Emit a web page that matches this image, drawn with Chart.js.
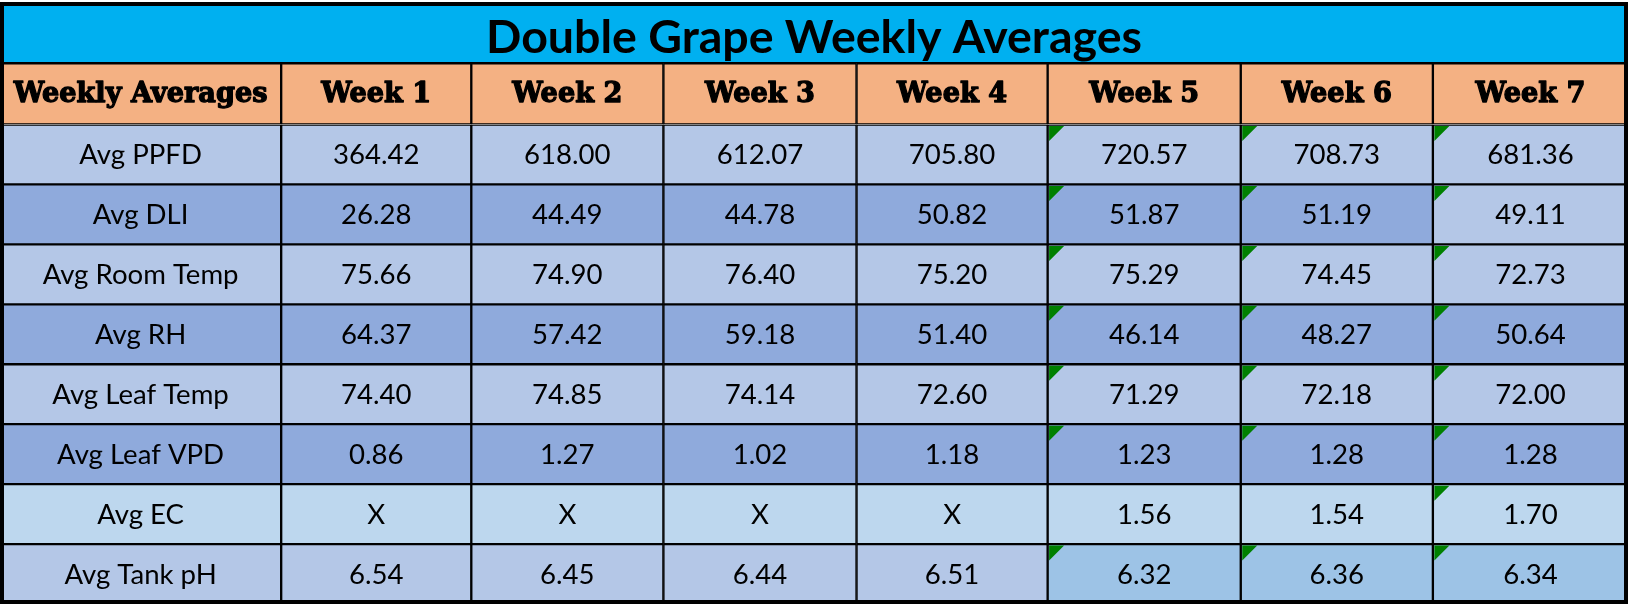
<!DOCTYPE html>
<html>
<head>
<meta charset="utf-8">
<script src="https://cdn.jsdelivr.net/npm/chart.js@4.4.1/dist/chart.umd.min.js"></script>
<style>
  html, body { margin: 0; padding: 0; background: #ffffff; }
  #wrap { width: 1628px; height: 606px; position: relative; }
</style>
</head>
<body>
<div id="wrap"><canvas id="c"></canvas></div>
<script>
// ---------------- DATA ----------------
const tableTitle = 'Double Grape Weekly Averages';
const cornerHeader = 'Weekly Averages';
const weekLabels = ['Week 1', 'Week 2', 'Week 3', 'Week 4', 'Week 5', 'Week 6', 'Week 7'];
const rowLabels = ['Avg PPFD', 'Avg DLI', 'Avg Room Temp', 'Avg RH', 'Avg Leaf Temp', 'Avg Leaf VPD', 'Avg EC', 'Avg Tank pH'];
const avgPPFD     = [364.42, 618.00, 612.07, 705.80, 720.57, 708.73, 681.36];
const avgDLI      = [26.28, 44.49, 44.78, 50.82, 51.87, 51.19, 49.11];
const avgRoomTemp = [75.66, 74.90, 76.40, 75.20, 75.29, 74.45, 72.73];
const avgRH       = [64.37, 57.42, 59.18, 51.40, 46.14, 48.27, 50.64];
const avgLeafTemp = [74.40, 74.85, 74.14, 72.60, 71.29, 72.18, 72.00];
const avgLeafVPD  = [0.86, 1.27, 1.02, 1.18, 1.23, 1.28, 1.28];
const avgEC       = [null, null, null, null, 1.56, 1.54, 1.70];
const avgTankPH   = [6.54, 6.45, 6.44, 6.51, 6.32, 6.36, 6.34];
const missingMark = 'X';
// cells carrying the spreadsheet's green corner indicator: [row index, week index]
const flaggedCells = [
  [0,4],[0,5],[0,6], [1,4],[1,5],[1,6], [2,4],[2,5],[2,6], [3,4],[3,5],[3,6],
  [4,4],[4,5],[4,6], [5,4],[5,5],[5,6], [6,6], [7,4],[7,5],[7,6]
];

// ---------------- LAYOUT / STYLE ----------------
const columnWidths = [281, 190, 192, 193, 191, 193, 192, 195];
const topBandWeight = 122.5;   // title + header rows
const bodyBandWeight = 479.5;  // eight data rows
const colors = {
  title: '#00B0F0', header: '#F4B183', light: '#B4C7E7', dark: '#8FAADC',
  ec: '#BDD7EE', ph: '#9DC3E6', grid: '#000000', text: '#000000', flag: '#008000'
};
const rowShade = ['light', 'dark', 'light', 'dark', 'light', 'dark', 'ec', 'light'];
function cellShade(r, c) { // c: 0 = label column, 1..7 = weeks
  if (r === 1 && c === 7) return 'light';
  if (r === 7 && c >= 5) return 'ph';
  return rowShade[r];
}

// ---------------- BUILD ----------------
const seriesRows = [avgPPFD, avgDLI, avgRoomTemp, avgRH, avgLeafTemp, avgLeafVPD, avgEC, avgTankPH];
const topCategories = ['title', 'header'];
const edges = [0];
columnWidths.forEach(w => edges.push(edges[edges.length - 1] + w));
const totalWidth = edges[edges.length - 1];
const fmt = v => (v === null ? missingMark : v.toFixed(2));
const barBase = {
  grouped: false, borderColor: colors.grid, borderWidth: 1.5, borderSkipped: false,
  categoryPercentage: 1, barPercentage: 1
};

const datasets = [];
// title + header band
for (let c = 0; c < columnWidths.length; c++) {
  datasets.push(Object.assign({}, barBase, {
    yAxisID: 'yTop',
    data: [c === 0 ? [0, totalWidth] : null, [edges[c], edges[c + 1]]],
    backgroundColor: [colors.title, colors.header],
    cellText: [c === 0 ? tableTitle : '', c === 0 ? cornerHeader : weekLabels[c - 1]],
    cellKind: ['title', 'header'],
    cellFlag: [false, false]
  }));
}
// data band
for (let c = 0; c < columnWidths.length; c++) {
  const data = [], bg = [], text = [], kind = [], flags = [];
  rowLabels.forEach((lab, r) => {
    data.push([edges[c], edges[c + 1]]);
    bg.push(colors[cellShade(r, c)]);
    text.push(c === 0 ? lab : fmt(seriesRows[r][c - 1]));
    kind.push('body');
    flags.push(c > 0 && flaggedCells.some(p => p[0] === r && p[1] === c - 1));
  });
  datasets.push(Object.assign({}, barBase, {
    yAxisID: 'yBody', data, backgroundColor: bg, cellText: text, cellKind: kind, cellFlag: flags
  }));
}

function fitSize(ctx, text, weight, family, target) {
  ctx.font = `${weight} 100px ${family}`;
  return 100 * target / ctx.measureText(text).width;
}

const tablePlugin = {
  id: 'tableCells',
  afterDatasetsDraw(chart) {
    const ctx = chart.ctx;
    const titleSize = fitSize(ctx, tableTitle, 'bold', 'Lato', 656);
    const headSize = fitSize(ctx, cornerHeader, 'bold', '"DejaVu Serif"', 254);
    const bodySize = fitSize(ctx, 'Avg Room Temp', 'normal', 'Lato', 196);
    ctx.save();
    chart.data.datasets.forEach((ds, di) => {
      const meta = chart.getDatasetMeta(di);
      meta.data.forEach((bar, ri) => {
        if (ds.data[ri] == null) return;
        const p = bar.getProps(['x', 'base', 'y', 'height'], true);
        const left = Math.min(p.x, p.base), right = Math.max(p.x, p.base);
        const top = p.y - p.height / 2;
        if (ds.cellFlag[ri]) {
          const s = 15;
          ctx.fillStyle = colors.flag;
          ctx.beginPath();
          ctx.moveTo(left + 1.5, top + 1.5);
          ctx.lineTo(left + 1.5 + s, top + 1.5);
          ctx.lineTo(left + 1.5, top + 1.5 + s);
          ctx.closePath();
          ctx.fill();
        }
        const k = ds.cellKind[ri];
        const cx = (left + right) / 2;
        ctx.fillStyle = colors.text;
        ctx.strokeStyle = colors.text;
        ctx.textAlign = 'center';
        ctx.textBaseline = 'middle';
        if (k === 'title') {
          ctx.font = `bold ${titleSize}px Lato`;
          ctx.fillText(ds.cellText[ri], cx, p.y + 5);
        } else if (k === 'header') {
          ctx.font = `bold ${headSize}px "DejaVu Serif"`;
          ctx.lineWidth = 1.3;
          ctx.lineJoin = 'round';
          ctx.strokeText(ds.cellText[ri], cx, p.y + 1);
          ctx.fillText(ds.cellText[ri], cx, p.y + 1);
        } else {
          ctx.font = `normal ${bodySize}px Lato`;
          ctx.fillText(ds.cellText[ri], cx, p.y + 1);
        }
      });
    });
    const a = chart.chartArea;
    ctx.strokeStyle = colors.grid;
    ctx.lineWidth = 4;
    ctx.strokeRect(a.left + 2, a.top + 2, a.right - a.left - 4, a.bottom - a.top - 4);
    ctx.restore();
  }
};

new Chart(document.getElementById('c'), {
  type: 'bar',
  data: { datasets },
  options: {
    indexAxis: 'y',
    responsive: true,
    maintainAspectRatio: false,
    animation: false,
    layout: { padding: { left: 0, right: 1628 - totalWidth - 1, top: 2, bottom: 2 } },
    plugins: { legend: { display: false }, tooltip: { enabled: false }, title: { display: false } },
    scales: {
      x: { type: 'linear', min: 0, max: totalWidth, display: false },
      // left-positioned stacked axes are laid out in reverse order, so the body band is declared first
      yBody: { type: 'category', labels: rowLabels, position: 'left', stack: 'rows',
               stackWeight: bodyBandWeight, offset: true, display: false },
      yTop: { type: 'category', labels: topCategories, position: 'left', stack: 'rows',
              stackWeight: topBandWeight, offset: true, display: false }
    }
  },
  plugins: [tablePlugin]
});
</script>
</body>
</html>
